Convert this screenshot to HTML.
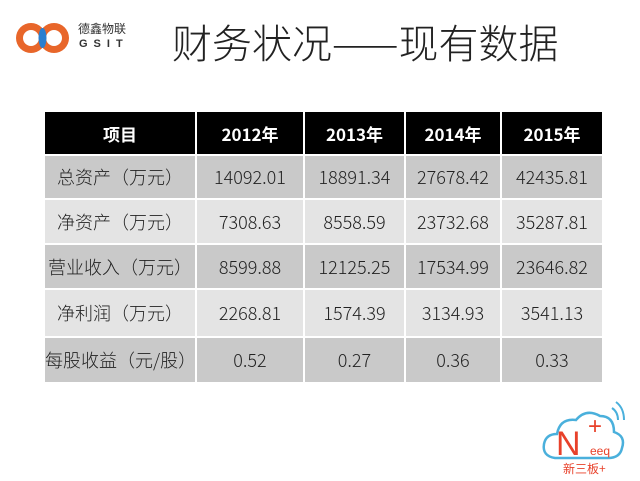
<!DOCTYPE html>
<html><head><meta charset="utf-8"><style>
*{margin:0;padding:0;box-sizing:border-box}
body{width:640px;height:481px;background:#fff;position:relative;overflow:hidden;font-family:"Liberation Sans","Noto Sans CJK SC",sans-serif}
.title{position:absolute;left:172px;top:12px;font-size:40px;font-family:"Noto Sans CJK SC",sans-serif;font-weight:300;color:#222;white-space:nowrap}
table{position:absolute;left:43px;top:112px;border-collapse:collapse}
td,th{border:2px solid #fff;text-align:center;font-size:18px;color:#222;padding:0;font-family:"Noto Sans CJK SC",sans-serif;font-weight:300}
th{background:#000;color:#fff;font-weight:bold;height:43px;border-top:0;font-size:17px}
tr.d td{background:#c9c9c9}
tr.l td{background:#e4e4e4}
</style></head><body>
<svg style="position:absolute;left:14px;top:18px" width="64" height="40">
<circle cx="17" cy="20" r="15" fill="#e8662a"/><circle cx="40" cy="20" r="15" fill="#e8662a"/>
<circle cx="17" cy="20" r="8" fill="#fff"/><circle cx="40" cy="20" r="8" fill="#fff"/>
<ellipse cx="28.5" cy="20" rx="4" ry="10" fill="#2a7fd0"/>
</svg>
<div style="position:absolute;left:78px;top:22px;font-size:12px;color:#333;font-family:'Noto Sans CJK SC',sans-serif;line-height:14px">德鑫物联</div>
<div style="position:absolute;left:79px;top:38px;font-size:11px;color:#333;font-weight:bold;letter-spacing:6px">GSIT</div>
<div class="title">财务状况——现有数据</div>
<table>
<tr><th style="width:152px">项目</th><th style="width:108px">2012年</th><th style="width:101px">2013年</th><th style="width:96px">2014年</th><th style="width:102px">2015年</th></tr>
<tr class="d" style="height:44px"><td>总资产（万元）</td><td>14092.01</td><td>18891.34</td><td>27678.42</td><td>42435.81</td></tr>
<tr class="l" style="height:45px"><td>净资产（万元）</td><td>7308.63</td><td>8558.59</td><td>23732.68</td><td>35287.81</td></tr>
<tr class="d" style="height:45px"><td>营业收入（万元）</td><td>8599.88</td><td>12125.25</td><td>17534.99</td><td>23646.82</td></tr>
<tr class="l" style="height:48px"><td>净利润（万元）</td><td>2268.81</td><td>1574.39</td><td>3134.93</td><td>3541.13</td></tr>
<tr class="d" style="height:46px"><td>每股收益（元/股）</td><td>0.52</td><td>0.27</td><td>0.36</td><td>0.33</td></tr>
</table>
<svg style="position:absolute;left:540px;top:398px" width="90" height="70">
<path d="M15 60 Q2 58 4 46 Q6 36 17 36 Q20 20 36 22 Q46 10 60 18 Q74 18 74 34 Q86 38 82 50 Q80 60 68 60 Z" fill="none" stroke="#4ab0dc" stroke-width="2.5"/>
<path d="M72 10 Q78 14 78 22" fill="none" stroke="#4ab0dc" stroke-width="2"/>
<path d="M76 4 Q84 10 84 22" fill="none" stroke="#4ab0dc" stroke-width="2"/>
<text x="16" y="57" font-size="34" fill="#e8412a" font-family="Liberation Sans">N</text>
<text x="48" y="36" font-size="24" fill="#e8412a" font-family="Liberation Sans">+</text>
<text x="50" y="57" font-size="12" fill="#e8412a" font-family="Liberation Sans">eeq</text>
</svg>
<div style="position:absolute;left:563px;top:462px;font-size:12px;color:#e8412a;font-family:'Noto Sans CJK SC',sans-serif;line-height:14px">新三板+</div>
</body></html>
